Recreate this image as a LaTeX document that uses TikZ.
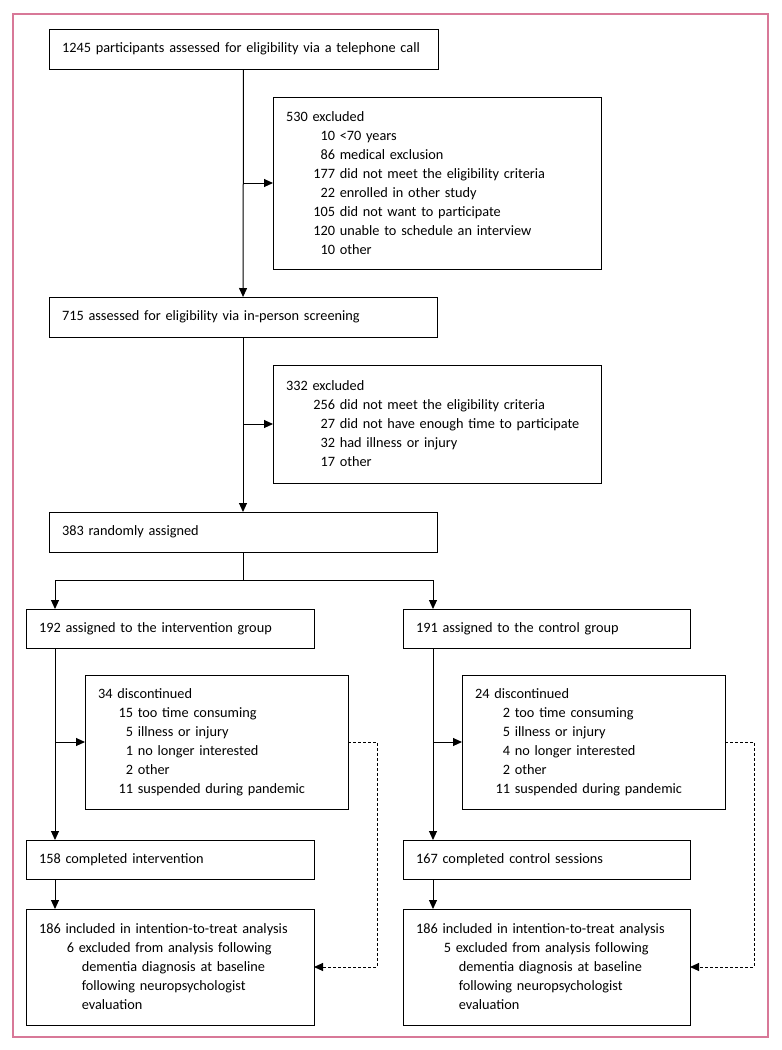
\documentclass[tikz,border=0pt]{standalone}
\usepackage{fontspec}
\setmainfont{Carlito}
\usetikzlibrary{arrows.meta,positioning}

\definecolor{framepink}{RGB}{216,120,152}
% one reason line: number right-aligned in a column, then the text
\newcommand{\reason}[3][35pt]{\makebox[#1][r]{#2}\ #3}

\tikzset{
  box/.style={draw, line width=1pt, anchor=north west, align=left,
    inner xsep=13pt, inner ysep=0pt, outer sep=0pt,
    font=\fontsize{14.3}{19}\selectfont},
  flow/.style={line width=1pt, -{Triangle[length=9pt,width=8pt]}},
  dashflow/.style={line width=1pt, dash pattern=on 3pt off 2pt,
    -{Triangle[length=9pt,width=8pt]}}
}

\begin{document}
\begin{tikzpicture}[x=1pt,y=-1pt]
    \useasboundingbox (0,0) rectangle (782,1050);
    \draw[framepink, line width=1.5pt] (13,14) rectangle (768,1037);

    % screening
    \node[box, text width=363pt, minimum height=40pt] (phone) at (49,29)
        {1245 participants assessed for eligibility via a telephone call};
    \node[box, text width=302pt, minimum height=172pt] (excl1) at (273,97)
        {530 excluded\\
         \reason[49pt]{10}{<70 years}\\
         \reason[49pt]{86}{medical exclusion}\\
         \reason[49pt]{177}{did not meet the eligibility criteria}\\
         \reason[49pt]{22}{enrolled in other study}\\
         \reason[49pt]{105}{did not want to participate}\\
         \reason[49pt]{120}{unable to schedule an interview}\\
         \reason[49pt]{10}{other}};
    \node[box, text width=362pt, minimum height=40pt] (inperson) at (49,297)
        {715 assessed for eligibility via in-person screening};
    \node[box, text width=302pt, minimum height=118pt] (excl2) at (273,365)
        {332 excluded\\
         \reason[49pt]{256}{did not meet the eligibility criteria}\\
         \reason[49pt]{27}{did not have enough time to participate}\\
         \reason[49pt]{32}{had illness or injury}\\
         \reason[49pt]{17}{other}};
    \node[box, text width=362pt, minimum height=40pt] (random) at (49,512)
        {383 randomly assigned};

    % intervention arm
    \node[box, text width=262pt, minimum height=39pt] (interv) at (26,609)
        {192 assigned to the intervention group};
    \node[box, text width=237pt, minimum height=134pt] (disc1) at (85,675)
        {34 discontinued\\
         \reason{15}{too time consuming}\\
         \reason{5}{illness or injury}\\
         \reason{1}{no longer interested}\\
         \reason{2}{other}\\
         \reason{11}{suspended during pandemic}};
    \node[box, text width=262pt, minimum height=39pt] (done1) at (26,840)
        {158 completed intervention};
    \node[box, text width=262pt, minimum height=116pt] (itt1) at (26,909)
        {186 included in intention-to-treat analysis\\
         \reason{6}{excluded from analysis following}\\
         \reason[38pt]{}{dementia diagnosis at baseline}\\
         \reason[38pt]{}{following neuropsychologist}\\
         \reason[38pt]{}{evaluation}};

    % control arm
    \node[box, text width=261pt, minimum height=39pt] (ctrl) at (403,609)
        {191 assigned to the control group};
    \node[box, text width=237pt, minimum height=134pt] (disc2) at (462,675)
        {24 discontinued\\
         \reason{2}{too time consuming}\\
         \reason{5}{illness or injury}\\
         \reason{4}{no longer interested}\\
         \reason{2}{other}\\
         \reason{11}{suspended during pandemic}};
    \node[box, text width=261pt, minimum height=39pt] (done2) at (403,840)
        {167 completed control sessions};
    \node[box, text width=261pt, minimum height=116pt] (itt2) at (403,909)
        {186 included in intention-to-treat analysis\\
         \reason{5}{excluded from analysis following}\\
         \reason[38pt]{}{dementia diagnosis at baseline}\\
         \reason[38pt]{}{following neuropsychologist}\\
         \reason[38pt]{}{evaluation}};

    % connectors
    \draw[flow] (phone) -- (inperson);
    \draw[flow] (phone.south |- excl1.west) -- (excl1.west);
    \draw[flow] (inperson) -- (random);
    \draw[flow] (inperson.south |- excl2.west) -- (excl2.west);

    \coordinate (split) at ([yshift=-28pt]random.south);
    \coordinate (leftin) at ([xshift=29pt]interv.north west);
    \coordinate (rightin) at ([xshift=30pt]ctrl.north west);
    \draw[line width=1pt] (random) -- (split);
    \draw[flow] (split) -| (leftin);
    \draw[flow] (split) -| (rightin);

    \draw[flow] (leftin |- interv.south) -- (leftin |- done1.north);
    \draw[flow] (leftin |- disc1.west) -- (disc1.west);
    \draw[flow] (leftin |- done1.south) -- (leftin |- itt1.north);
    \draw[flow] (rightin |- ctrl.south) -- (rightin |- done2.north);
    \draw[flow] (rightin |- disc2.west) -- (disc2.west);
    \draw[flow] (rightin |- done2.south) -- (rightin |- itt2.north);

    \draw[dashflow] (disc1.east) -- ++(29,0) |- (itt1.east);
    \draw[dashflow] (disc2.east) -- ++(29,0) |- (itt2.east);
\end{tikzpicture}
\end{document}
